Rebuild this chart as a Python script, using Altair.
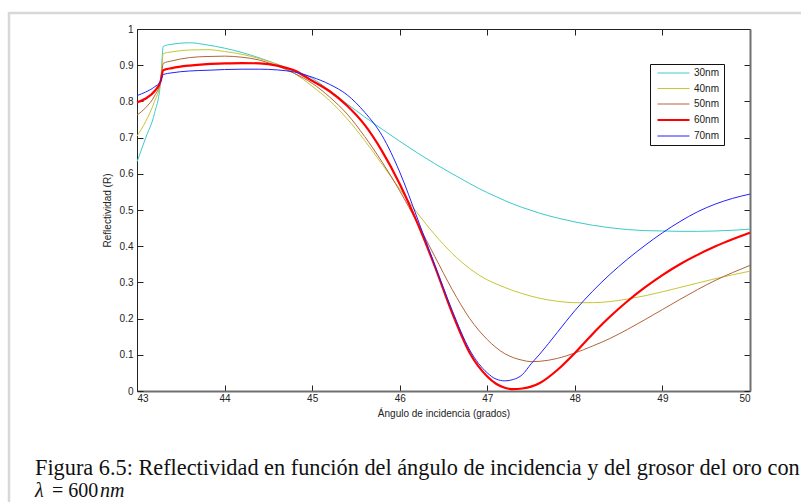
import altair as alt
import pandas as pd

# ---------------- data ----------------
angles = [43.0, 43.1, 43.2, 43.27, 43.3, 43.4, 43.6, 43.8, 44.0, 44.2, 44.4, 44.6,
          44.8, 45.0, 45.2, 45.4, 45.6, 45.8, 46.0, 46.2, 46.4, 46.6, 46.8, 47.0,
          47.1, 47.2, 47.3, 47.4, 47.5, 47.6, 47.8, 48.0, 48.2, 48.4, 48.6, 48.8,
          49.0, 49.2, 49.4, 49.6, 49.8, 50.0]

r30 = [0.633, 0.700, 0.767, 0.855, 0.952, 0.958, 0.962, 0.956, 0.947, 0.935, 0.920, 0.903,
       0.884, 0.864, 0.830, 0.793, 0.757, 0.723, 0.690, 0.658, 0.628, 0.600, 0.573, 0.548,
       0.537, 0.526, 0.516, 0.507, 0.499, 0.491, 0.478, 0.467, 0.458, 0.451, 0.446, 0.443,
       0.442, 0.441, 0.441, 0.442, 0.444, 0.447]
r40 = [0.704, 0.745, 0.800, 0.856, 0.932, 0.937, 0.942, 0.943, 0.938, 0.930, 0.918, 0.902,
       0.877, 0.842, 0.802, 0.752, 0.692, 0.626, 0.558, 0.492, 0.432, 0.380, 0.338, 0.307,
       0.296, 0.286, 0.277, 0.269, 0.262, 0.256, 0.248, 0.244, 0.244, 0.247, 0.254, 0.263,
       0.274, 0.286, 0.298, 0.310, 0.321, 0.331]
r50 = [0.762, 0.783, 0.815, 0.856, 0.905, 0.912, 0.921, 0.924, 0.925, 0.922, 0.914, 0.898,
       0.877, 0.850, 0.812, 0.765, 0.703, 0.632, 0.553, 0.465, 0.372, 0.280, 0.200, 0.142,
       0.120, 0.103, 0.092, 0.085, 0.081, 0.082, 0.090, 0.105, 0.124, 0.145, 0.170, 0.197,
       0.225, 0.253, 0.280, 0.305, 0.327, 0.347]
r60 = [0.797, 0.808, 0.828, 0.856, 0.886, 0.892, 0.899, 0.903, 0.905, 0.906, 0.905, 0.899,
       0.885, 0.857, 0.828, 0.788, 0.735, 0.662, 0.572, 0.465, 0.345, 0.215, 0.105, 0.040,
       0.020, 0.009, 0.005, 0.007, 0.012, 0.022, 0.058, 0.105, 0.157, 0.205, 0.248, 0.286,
       0.320, 0.350, 0.376, 0.399, 0.419, 0.437]
r70 = [0.816, 0.826, 0.840, 0.856, 0.874, 0.879, 0.884, 0.886, 0.888, 0.889, 0.889, 0.887,
       0.881, 0.867, 0.847, 0.818, 0.770, 0.705, 0.605, 0.478, 0.348, 0.222, 0.113, 0.050,
       0.033, 0.028, 0.032, 0.045, 0.075, 0.102, 0.162, 0.222, 0.275, 0.322, 0.364, 0.402,
       0.437, 0.468, 0.495, 0.516, 0.532, 0.544]

series_names = ["30nm", "40nm", "50nm", "60nm", "70nm"]
series_colors = ["#3CCACA", "#C6C637", "#B3643C", "#FF0000", "#2222FF"]
series_widths = [1.0, 1.0, 1.0, 2.2, 1.0]

x_ticks = [43, 44, 45, 46, 47, 48, 49, 50]
y_ticks = [0, 0.1, 0.2, 0.3, 0.4, 0.5, 0.6, 0.7, 0.8, 0.9, 1]

x_title = "Ángulo de incidencia (grados)"
y_title = "Reflectividad (R)"
caption_1 = "Figura 6.5: Reflectividad en función del ángulo de incidencia y del grosor del oro con"
caption_lambda = "λ"
caption_eq = "= 600"
caption_unit = "nm"

# ---------------- build table ----------------
rows = []
for name, vals in zip(series_names, [r30, r40, r50, r60, r70]):
    for a, v in zip(angles, vals):
        rows.append({"angle": a, "R": v, "serie": name})
df = pd.DataFrame(rows)

W, H = 613, 362
FONT = "Liberation Sans"
xscale = alt.Scale(domain=[43, 50], nice=False, zero=False)
yscale = alt.Scale(domain=[0, 1], nice=False, zero=False)

legend = alt.Legend(
    title=None, orient="none", legendX=513, legendY=35,
    fillColor="white", strokeColor="#111111", padding=4,
    symbolType="M-4,0H4", symbolSize=64, symbolOffset=14,
    labelOffset=15, rowPadding=5.5, labelFont=FONT, labelFontSize=10,
    labelColor="#222222",
)

lines = alt.Chart(df).mark_line(interpolate="monotone").encode(
    x=alt.X("angle:Q", scale=xscale, axis=alt.Axis(
        orient="bottom", values=x_ticks, title=x_title, ticks=False, grid=False,
        domainColor="#707070", domainWidth=2, labelPadding=2, titlePadding=5,
        labelFont=FONT, labelFontSize=10, labelColor="#222222", format="d",
        titleFont=FONT, titleFontSize=10, titleFontWeight="normal", titleColor="#222222")),
    y=alt.Y("R:Q", scale=yscale, axis=alt.Axis(
        orient="left", values=y_ticks, title=y_title, ticks=False, grid=False,
        domainColor="#222222", domainWidth=1, labelPadding=4, titlePadding=7,
        labelFont=FONT, labelFontSize=10, labelColor="#222222", format="~g",
        titleFont=FONT, titleFontSize=10, titleFontWeight="normal", titleColor="#222222")),
    color=alt.Color("serie:N", scale=alt.Scale(type="ordinal", domain=series_names, range=series_colors), legend=legend),
    strokeWidth=alt.StrokeWidth("serie:N", scale=alt.Scale(type="ordinal", domain=series_names, range=series_widths), legend=legend),
)

# inward ticks: bottom & left (axes moved across the plot with negative offsets)
ticks_a = alt.Chart(df).mark_line(strokeOpacity=0).encode(
    x=alt.X("angle:Q", scale=xscale, axis=alt.Axis(
        orient="top", offset=-H, values=x_ticks, labels=False, domain=False, grid=False,
        ticks=True, tickSize=6, tickColor="#222222", title=None)),
    y=alt.Y("R:Q", scale=yscale, axis=alt.Axis(
        orient="right", offset=-W, values=y_ticks, labels=False, domain=False, grid=False,
        ticks=True, tickSize=6, tickColor="#222222", title=None)),
    detail="serie:N",
)
# top & right sides of the box, with inward ticks
ticks_b = alt.Chart(df).mark_line(strokeOpacity=0).encode(
    x=alt.X("angle:Q", scale=xscale, axis=alt.Axis(
        orient="bottom", offset=-H, values=x_ticks, labels=False, domain=True,
        domainColor="#222222", domainWidth=1, grid=False,
        ticks=True, tickSize=6, tickColor="#222222", title=None)),
    y=alt.Y("R:Q", scale=yscale, axis=alt.Axis(
        orient="left", offset=-W, values=y_ticks, labels=False, domain=True,
        domainColor="#707070", domainWidth=2, grid=False,
        ticks=True, tickSize=6, tickColor="#222222", title=None)),
    detail="serie:N",
)

one = pd.DataFrame({"k": [0]})
frame_top = alt.Chart(one).mark_rule(color="#D8D8D8", strokeWidth=2.5).encode(
    x=alt.value(-128), x2=alt.value(680), y=alt.value(-16))
frame_left = alt.Chart(one).mark_rule(color="#D8D8D8", strokeWidth=2.5).encode(
    x=alt.value(-128), y=alt.value(-17), y2=alt.value(480))

cap_style = dict(font="Liberation Serif", fontSize=22.3, color="#111111",
                 align="left", baseline="alphabetic")
cap1 = alt.Chart(one).mark_text(**cap_style).encode(
    x=alt.value(-102), y=alt.value(446), text=alt.value(caption_1))
cap2a = alt.Chart(one).mark_text(**{**cap_style, "fontStyle": "italic", "fontSize": 20}).encode(
    x=alt.value(-102), y=alt.value(468), text=alt.value(caption_lambda))
cap2b = alt.Chart(one).mark_text(**{**cap_style, "fontSize": 20}).encode(
    x=alt.value(-85), y=alt.value(468), text=alt.value(caption_eq))
cap2c = alt.Chart(one).mark_text(**{**cap_style, "fontStyle": "italic", "fontSize": 20}).encode(
    x=alt.value(-37), y=alt.value(468), text=alt.value(caption_unit))

chart = alt.layer(
    frame_top, frame_left, ticks_a, ticks_b, lines, cap1, cap2a, cap2b, cap2c
).resolve_axis(x="independent", y="independent").properties(
    width=W, height=H,
    autosize=alt.AutoSizeParams(type="none"),
    padding={"left": 137, "top": 29, "right": 51, "bottom": 111},
    background="white",
).configure_view(stroke=None)

chart.save("out.html", embed_options={"renderer": "svg", "actions": False})
